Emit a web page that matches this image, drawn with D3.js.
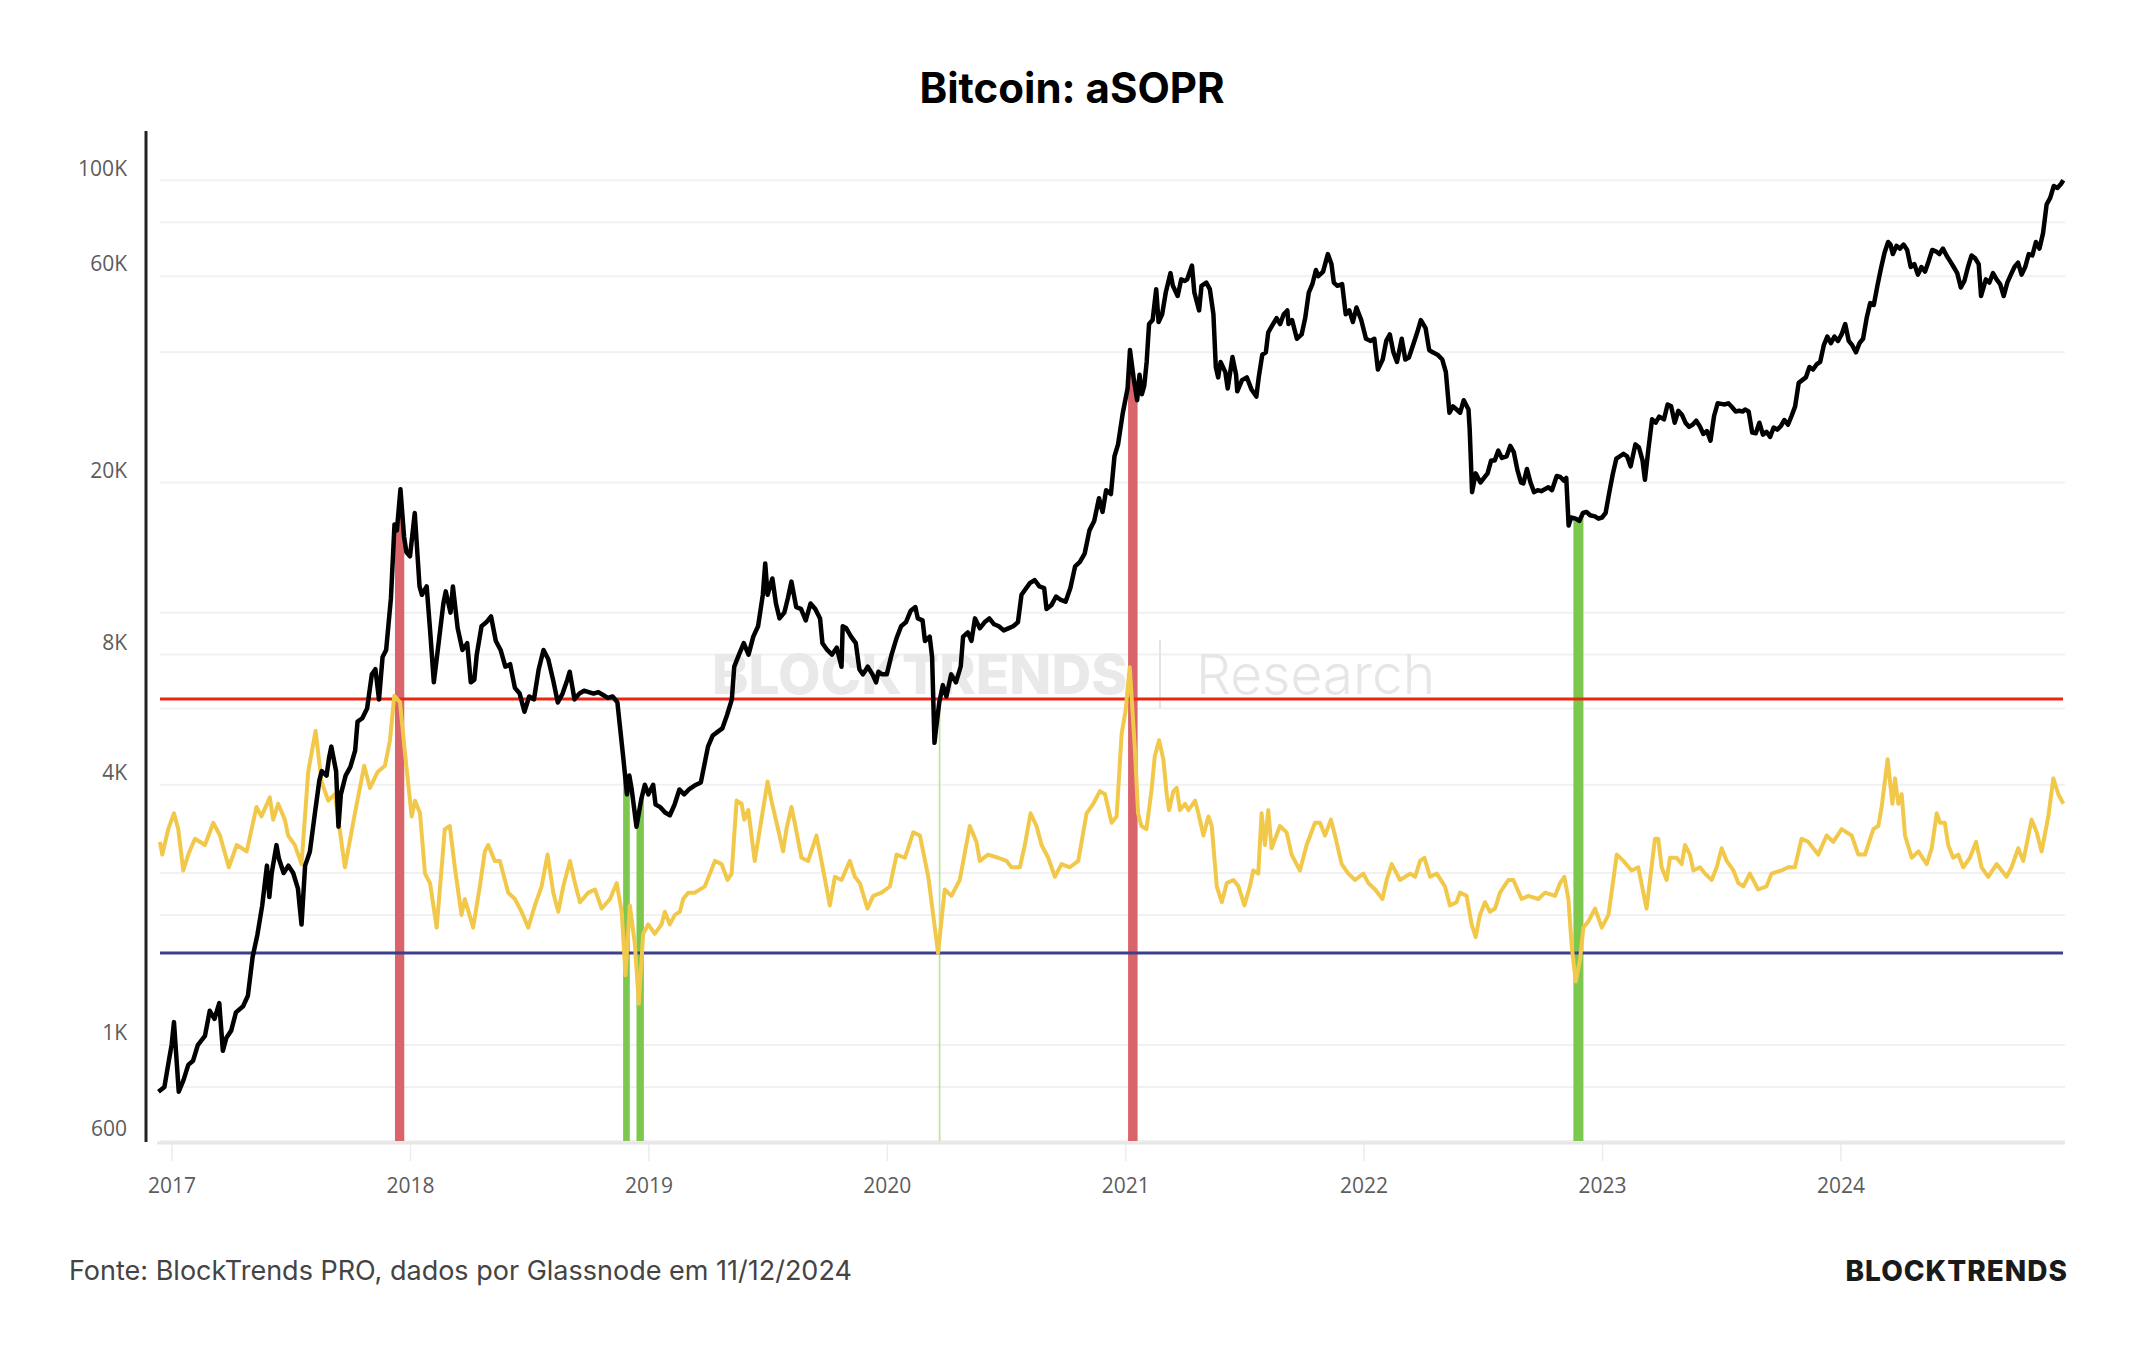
<!DOCTYPE html>
<html>
<head>
<meta charset="utf-8">
<title>Bitcoin: aSOPR</title>
<script src="https://d3js.org/d3.v7.min.js"></script>
<style>
  body { margin: 0; background-color: #fff; }
  .grid line { stroke: #f1f1f1; stroke-width: 2px; }
  .axis path { stroke: none; }
  .axis text { fill: #5c5c5c; font-family: 'Open Sans', sans-serif; font-size: 21px; }
  .xaxis line { stroke: #ececec; stroke-width: 1.5px; }
</style>
</head>
<body>
<div id="chart"></div>
<script>
var width = 2144;
var height = 1350;

// ---- data (x in fractional years) ----
var years = [2017, 2018, 2019, 2020, 2021, 2022, 2023, 2024];
var priceTicks = [600, 1000, 4000, 8000, 20000, 60000, 100000];
var priceTickLabels = ['600', '1K', '4K', '8K', '20K', '60K', '100K'];
var priceGrid = [600, 800, 1000, 2000, 2500, 4000, 6000, 8000, 10000, 20000, 40000, 60000, 80000, 100000];

var soprUpper = 1.05;
var soprLower = 0.97;

// periods where aSOPR broke the bands
var topSignals = [[2017.937, 2017.976], [2021.012, 2021.052]];
var bottomSignals = [[2018.894, 2018.922], [2018.950, 2018.981], [2022.880, 2022.922]];
var weakSignals = [[2020.220, 2020.223]];

var btcPrice = [
  [2016.945, 780], [2016.97, 800], [2016.99, 930], [2017.0, 1000], [2017.01, 1130], [2017.03, 780], [2017.05, 830],
  [2017.07, 900], [2017.09, 920], [2017.11, 1000], [2017.14, 1050], [2017.16, 1200], [2017.18, 1150], [2017.2, 1250],
  [2017.215, 970], [2017.23, 1040], [2017.25, 1080], [2017.27, 1190], [2017.3, 1230], [2017.32, 1300], [2017.34, 1600],
  [2017.36, 1800], [2017.38, 2100], [2017.4, 2600], [2017.41, 2200], [2017.42, 2500], [2017.44, 2900], [2017.45, 2700],
  [2017.47, 2500], [2017.49, 2600], [2017.51, 2500], [2017.53, 2300], [2017.545, 1900], [2017.56, 2600], [2017.58, 2800],
  [2017.6, 3400], [2017.62, 4100], [2017.63, 4300], [2017.65, 4200], [2017.66, 4600], [2017.67, 4900], [2017.69, 4300],
  [2017.7, 3200], [2017.71, 3800], [2017.73, 4200], [2017.75, 4400], [2017.77, 4800], [2017.78, 5600], [2017.8, 5700],
  [2017.82, 6000], [2017.84, 7200], [2017.855, 7400], [2017.87, 6300], [2017.885, 7900], [2017.9, 8200], [2017.92, 10800],
  [2017.935, 16000], [2017.945, 15500], [2017.96, 19300], [2017.975, 15000], [2017.985, 13800], [2018.0, 13500],
  [2018.02, 17000], [2018.04, 11500], [2018.05, 11000], [2018.07, 11500], [2018.085, 9000], [2018.1, 6900], [2018.12, 8500],
  [2018.14, 10500], [2018.15, 11200], [2018.17, 10000], [2018.18, 11500], [2018.2, 9200], [2018.22, 8200], [2018.24, 8500],
  [2018.255, 6900], [2018.27, 7000], [2018.28, 8000], [2018.3, 9300], [2018.32, 9500], [2018.34, 9800], [2018.36, 8600],
  [2018.38, 8200], [2018.4, 7500], [2018.42, 7600], [2018.44, 6700], [2018.46, 6500], [2018.48, 5900], [2018.5, 6400],
  [2018.52, 6300], [2018.54, 7400], [2018.56, 8200], [2018.58, 7800], [2018.6, 7000], [2018.62, 6200], [2018.64, 6500],
  [2018.66, 7000], [2018.67, 7300], [2018.69, 6300], [2018.71, 6500], [2018.73, 6600], [2018.75, 6550], [2018.77, 6500],
  [2018.79, 6550], [2018.81, 6450], [2018.83, 6350], [2018.85, 6400], [2018.87, 6200], [2018.88, 5500], [2018.895, 4600],
  [2018.91, 3800], [2018.92, 4200], [2018.93, 3900], [2018.95, 3200], [2018.97, 3700], [2018.985, 4000], [2019.0, 3800],
  [2019.02, 4000], [2019.03, 3600], [2019.05, 3550], [2019.07, 3450], [2019.09, 3400], [2019.11, 3600], [2019.13, 3900],
  [2019.15, 3800], [2019.17, 3900], [2019.2, 4000], [2019.22, 4050], [2019.25, 4900], [2019.27, 5200], [2019.29, 5300],
  [2019.31, 5400], [2019.33, 5800], [2019.35, 6300], [2019.36, 7500], [2019.38, 8000], [2019.4, 8500], [2019.42, 8000],
  [2019.44, 8800], [2019.46, 9300], [2019.48, 11000], [2019.49, 13000], [2019.5, 11000], [2019.52, 12000], [2019.535, 10500],
  [2019.55, 9700], [2019.57, 10000], [2019.585, 10800], [2019.6, 11800], [2019.62, 10300], [2019.64, 10200], [2019.66, 9600],
  [2019.68, 10500], [2019.7, 10200], [2019.72, 9700], [2019.73, 8500], [2019.75, 8200], [2019.77, 8000], [2019.79, 8300],
  [2019.81, 7500], [2019.815, 9300], [2019.83, 9200], [2019.85, 8800], [2019.87, 8500], [2019.885, 7400], [2019.9, 7200],
  [2019.92, 7500], [2019.94, 7200], [2019.955, 6900], [2019.965, 7300], [2019.98, 7200], [2020.0, 7200], [2020.02, 8000],
  [2020.04, 8700], [2020.06, 9300], [2020.08, 9500], [2020.1, 10100], [2020.12, 10300], [2020.13, 9700], [2020.15, 9600],
  [2020.16, 8600], [2020.18, 8800], [2020.19, 7900], [2020.2, 5000], [2020.205, 5300], [2020.22, 6200], [2020.235, 6800],
  [2020.25, 6400], [2020.27, 7200], [2020.29, 6900], [2020.31, 7500], [2020.32, 8800], [2020.34, 9000], [2020.355, 8600],
  [2020.37, 9700], [2020.39, 9200], [2020.41, 9500], [2020.43, 9700], [2020.45, 9400], [2020.47, 9300], [2020.49, 9100],
  [2020.51, 9200], [2020.53, 9300], [2020.55, 9500], [2020.565, 11000], [2020.58, 11300], [2020.6, 11700], [2020.62, 11900],
  [2020.64, 11500], [2020.66, 11400], [2020.67, 10200], [2020.69, 10400], [2020.71, 10900], [2020.73, 10700], [2020.75, 10600],
  [2020.77, 11400], [2020.79, 12800], [2020.81, 13100], [2020.83, 13700], [2020.85, 15500], [2020.87, 16300], [2020.89, 18400],
  [2020.905, 17100], [2020.92, 19200], [2020.94, 18800], [2020.955, 23000], [2020.97, 24500], [2020.99, 29000], [2021.01, 33000],
  [2021.02, 40500], [2021.035, 35000], [2021.05, 31000], [2021.06, 35500], [2021.07, 32000], [2021.08, 33500], [2021.09, 38000],
  [2021.1, 46500], [2021.115, 47500], [2021.13, 56000], [2021.14, 47000], [2021.155, 49000], [2021.17, 55000], [2021.19, 61000],
  [2021.2, 57000], [2021.22, 54000], [2021.235, 59000], [2021.25, 58500], [2021.26, 59000], [2021.28, 63500], [2021.29, 55000],
  [2021.31, 50000], [2021.32, 57000], [2021.34, 58000], [2021.355, 56000], [2021.37, 49000], [2021.38, 37000], [2021.39, 35000],
  [2021.4, 38000], [2021.42, 36000], [2021.43, 33000], [2021.45, 39000], [2021.465, 35500], [2021.47, 32500], [2021.49, 34500],
  [2021.51, 35000], [2021.53, 32800], [2021.55, 31600], [2021.56, 35000], [2021.575, 39500], [2021.59, 40000], [2021.6, 44500],
  [2021.615, 46000], [2021.635, 48000], [2021.65, 46500], [2021.665, 49000], [2021.68, 50000], [2021.685, 46500], [2021.7, 47500],
  [2021.72, 43000], [2021.74, 44000], [2021.755, 48000], [2021.77, 55000], [2021.785, 57500], [2021.8, 62000], [2021.81, 60000],
  [2021.83, 61500], [2021.85, 67500], [2021.865, 64000], [2021.875, 58000], [2021.89, 57000], [2021.91, 57500], [2021.925, 49000],
  [2021.94, 50000], [2021.955, 47000], [2021.97, 50800], [2021.99, 47500], [2022.01, 43000], [2022.03, 42500], [2022.045, 43000],
  [2022.06, 36500], [2022.08, 38500], [2022.095, 42500], [2022.11, 44000], [2022.125, 40000], [2022.14, 38000], [2022.16, 43000],
  [2022.175, 38500], [2022.19, 38900], [2022.21, 42000], [2022.225, 44500], [2022.24, 47500], [2022.26, 45500], [2022.275, 40500],
  [2022.29, 40000], [2022.31, 39500], [2022.33, 38500], [2022.345, 36000], [2022.36, 29000], [2022.375, 30000], [2022.39, 29500],
  [2022.405, 29000], [2022.42, 31000], [2022.44, 29500], [2022.445, 26500], [2022.455, 19000], [2022.47, 21000], [2022.49, 20000],
  [2022.505, 20500], [2022.52, 21000], [2022.535, 22500], [2022.55, 22500], [2022.565, 23700], [2022.58, 22800], [2022.6, 23000],
  [2022.615, 24300], [2022.63, 23500], [2022.645, 21400], [2022.66, 20000], [2022.67, 19900], [2022.685, 21500], [2022.7, 20000],
  [2022.715, 19000], [2022.73, 19200], [2022.745, 19100], [2022.76, 19300], [2022.775, 19500], [2022.79, 19200], [2022.81, 20700],
  [2022.825, 20600], [2022.84, 20200], [2022.85, 20500], [2022.86, 15900], [2022.87, 16600], [2022.89, 16500], [2022.905, 16300],
  [2022.92, 17000], [2022.935, 17100], [2022.95, 16800], [2022.97, 16700], [2022.985, 16500], [2023.0, 16600], [2023.015, 17000],
  [2023.03, 18900], [2023.045, 20900], [2023.06, 22700], [2023.075, 23000], [2023.09, 23300], [2023.105, 23000], [2023.12, 21800],
  [2023.14, 24500], [2023.155, 24100], [2023.17, 22500], [2023.18, 20300], [2023.195, 24000], [2023.21, 28000], [2023.225, 27500],
  [2023.24, 28400], [2023.26, 28000], [2023.275, 30300], [2023.29, 30000], [2023.305, 27500], [2023.32, 29300], [2023.335, 28700],
  [2023.35, 27500], [2023.365, 26900], [2023.38, 27200], [2023.395, 27800], [2023.41, 27000], [2023.425, 25900], [2023.44, 26300],
  [2023.455, 25000], [2023.47, 28500], [2023.485, 30500], [2023.5, 30400], [2023.515, 30300], [2023.53, 30500], [2023.545, 29900],
  [2023.56, 29200], [2023.575, 29300], [2023.59, 29200], [2023.6, 29500], [2023.615, 29200], [2023.63, 26100], [2023.645, 26000],
  [2023.66, 27500], [2023.675, 25800], [2023.69, 26200], [2023.705, 25500], [2023.72, 26800], [2023.735, 26500], [2023.75, 27000],
  [2023.765, 27900], [2023.78, 27200], [2023.795, 28500], [2023.81, 30000], [2023.825, 34000], [2023.84, 34500], [2023.855, 35000],
  [2023.87, 37000], [2023.885, 36500], [2023.9, 37500], [2023.915, 38000], [2023.93, 41500], [2023.945, 43500], [2023.96, 42000],
  [2023.975, 43500], [2023.99, 42500], [2024.005, 44000], [2024.02, 46500], [2024.035, 42500], [2024.05, 41500], [2024.065, 40000],
  [2024.08, 42000], [2024.095, 43000], [2024.11, 48000], [2024.125, 52000], [2024.14, 51500], [2024.155, 57000], [2024.17, 62500],
  [2024.185, 68000], [2024.2, 72000], [2024.21, 71000], [2024.22, 67500], [2024.235, 70500], [2024.25, 69500], [2024.265, 71000],
  [2024.28, 69000], [2024.295, 63000], [2024.31, 64000], [2024.325, 60500], [2024.34, 63000], [2024.355, 61500], [2024.37, 65000],
  [2024.385, 69000], [2024.4, 68500], [2024.415, 67500], [2024.43, 69500], [2024.445, 67000], [2024.46, 65000], [2024.475, 63000],
  [2024.49, 61000], [2024.505, 56500], [2024.52, 58500], [2024.535, 63000], [2024.55, 67000], [2024.565, 66000], [2024.58, 64000],
  [2024.59, 54000], [2024.61, 59000], [2024.625, 58000], [2024.64, 61000], [2024.655, 59000], [2024.67, 57500], [2024.685, 54000],
  [2024.7, 58000], [2024.715, 60500], [2024.73, 63000], [2024.745, 64500], [2024.76, 60500], [2024.775, 63000], [2024.79, 67500],
  [2024.805, 67000], [2024.82, 72000], [2024.835, 69500], [2024.85, 75500], [2024.865, 88000], [2024.88, 91000], [2024.895, 97000],
  [2024.91, 96000], [2024.925, 98000], [2024.935, 100000]
];

var asopr = [
  [2016.951, 1.005], [2016.961, 1.001], [2016.986, 1.009], [2017.010, 1.014], [2017.028, 1.009], [2017.049, 0.996], [2017.070, 1.001],
  [2017.098, 1.006], [2017.140, 1.004], [2017.175, 1.011], [2017.203, 1.007], [2017.240, 0.997], [2017.273, 1.004], [2017.315, 1.002],
  [2017.356, 1.016], [2017.377, 1.013], [2017.412, 1.019], [2017.426, 1.012], [2017.447, 1.017], [2017.475, 1.012], [2017.489, 1.007],
  [2017.517, 1.004], [2017.545, 0.998], [2017.573, 1.027], [2017.604, 1.040], [2017.629, 1.024], [2017.657, 1.018], [2017.685, 1.020],
  [2017.727, 0.997], [2017.769, 1.014], [2017.808, 1.029], [2017.832, 1.022], [2017.864, 1.027], [2017.895, 1.029], [2017.916, 1.037],
  [2017.934, 1.051], [2017.958, 1.049], [2017.979, 1.033], [2018.007, 1.013], [2018.021, 1.018], [2018.042, 1.014], [2018.063, 0.995],
  [2018.084, 0.992], [2018.112, 0.978], [2018.146, 1.009], [2018.167, 1.010], [2018.188, 0.997], [2018.216, 0.982], [2018.230, 0.987],
  [2018.265, 0.978], [2018.293, 0.991], [2018.314, 1.002], [2018.328, 1.004], [2018.356, 0.999], [2018.377, 0.999], [2018.412, 0.989],
  [2018.440, 0.987], [2018.468, 0.983], [2018.496, 0.978], [2018.524, 0.985], [2018.552, 0.991], [2018.577, 1.001], [2018.601, 0.989],
  [2018.622, 0.983], [2018.643, 0.991], [2018.671, 0.999], [2018.695, 0.991], [2018.713, 0.986], [2018.748, 0.989], [2018.776, 0.990],
  [2018.804, 0.984], [2018.839, 0.987], [2018.867, 0.992], [2018.888, 0.983], [2018.904, 0.963], [2018.922, 0.985], [2018.943, 0.973],
  [2018.960, 0.954], [2018.978, 0.976], [2018.999, 0.979], [2019.027, 0.976], [2019.055, 0.979], [2019.069, 0.983], [2019.090, 0.979],
  [2019.111, 0.982], [2019.132, 0.983], [2019.146, 0.987], [2019.167, 0.989], [2019.195, 0.989], [2019.237, 0.991], [2019.258, 0.995],
  [2019.279, 0.999], [2019.307, 0.998], [2019.332, 0.993], [2019.349, 0.995], [2019.370, 1.018], [2019.391, 1.017], [2019.402, 1.012],
  [2019.419, 1.015], [2019.446, 0.999], [2019.474, 1.012], [2019.500, 1.024], [2019.516, 1.018], [2019.544, 1.009], [2019.565, 1.002],
  [2019.579, 1.009], [2019.600, 1.016], [2019.614, 1.011], [2019.642, 1.000], [2019.670, 0.999], [2019.705, 1.007], [2019.726, 0.999],
  [2019.761, 0.985], [2019.782, 0.994], [2019.810, 0.993], [2019.845, 0.999], [2019.866, 0.994], [2019.887, 0.992], [2019.919, 0.984],
  [2019.943, 0.988], [2019.978, 0.989], [2020.013, 0.991], [2020.041, 1.001], [2020.076, 1.000], [2020.111, 1.008], [2020.139, 1.007],
  [2020.174, 0.994], [2020.215, 0.970], [2020.243, 0.990], [2020.271, 0.988], [2020.306, 0.993], [2020.348, 1.010], [2020.376, 1.005],
  [2020.390, 0.999], [2020.425, 1.001], [2020.467, 1.000], [2020.502, 0.999], [2020.523, 0.997], [2020.558, 0.997], [2020.579, 1.004],
  [2020.603, 1.014], [2020.628, 1.010], [2020.649, 1.004], [2020.677, 1.000], [2020.705, 0.994], [2020.733, 0.998], [2020.768, 0.997],
  [2020.803, 0.999], [2020.838, 1.014], [2020.866, 1.017], [2020.894, 1.021], [2020.915, 1.020], [2020.943, 1.011], [2020.964, 1.013],
  [2020.985, 1.039], [2021.001, 1.046], [2021.019, 1.060], [2021.040, 1.035], [2021.054, 1.014], [2021.068, 1.010], [2021.089, 1.009],
  [2021.110, 1.021], [2021.124, 1.032], [2021.142, 1.037], [2021.160, 1.031], [2021.174, 1.020], [2021.184, 1.015], [2021.202, 1.021],
  [2021.216, 1.022], [2021.230, 1.015], [2021.251, 1.017], [2021.265, 1.015], [2021.293, 1.018], [2021.307, 1.014], [2021.328, 1.007],
  [2021.349, 1.013], [2021.363, 1.010], [2021.384, 0.991], [2021.405, 0.986], [2021.426, 0.992], [2021.454, 0.993], [2021.475, 0.991],
  [2021.500, 0.985], [2021.523, 0.991], [2021.537, 0.996], [2021.558, 0.995], [2021.572, 1.014], [2021.586, 1.004], [2021.600, 1.015],
  [2021.614, 1.003], [2021.649, 1.010], [2021.677, 1.008], [2021.698, 1.001], [2021.733, 0.996], [2021.761, 1.004], [2021.796, 1.011],
  [2021.817, 1.011], [2021.838, 1.007], [2021.863, 1.012], [2021.880, 1.007], [2021.908, 0.998], [2021.936, 0.995], [2021.964, 0.993],
  [2021.999, 0.995], [2022.020, 0.992], [2022.048, 0.990], [2022.079, 0.987], [2022.097, 0.993], [2022.118, 0.998], [2022.153, 0.993],
  [2022.195, 0.995], [2022.216, 0.994], [2022.237, 0.999], [2022.255, 1.000], [2022.279, 0.994], [2022.307, 0.995], [2022.341, 0.991],
  [2022.362, 0.985], [2022.390, 0.986], [2022.404, 0.989], [2022.432, 0.988], [2022.453, 0.979], [2022.470, 0.975], [2022.488, 0.982],
  [2022.509, 0.986], [2022.530, 0.983], [2022.551, 0.984], [2022.572, 0.989], [2022.607, 0.993], [2022.628, 0.993], [2022.663, 0.987],
  [2022.691, 0.988], [2022.733, 0.987], [2022.761, 0.989], [2022.803, 0.988], [2022.824, 0.992], [2022.842, 0.994], [2022.859, 0.987],
  [2022.873, 0.972], [2022.890, 0.961], [2022.908, 0.968], [2022.922, 0.978], [2022.943, 0.980], [2022.971, 0.984], [2022.999, 0.978],
  [2023.027, 0.982], [2023.062, 1.001], [2023.090, 0.999], [2023.124, 0.996], [2023.152, 0.997], [2023.187, 0.984], [2023.222, 1.006],
  [2023.236, 1.006], [2023.250, 0.997], [2023.271, 0.993], [2023.285, 1.000], [2023.313, 1.000], [2023.334, 0.998], [2023.348, 1.004],
  [2023.369, 1.001], [2023.383, 0.996], [2023.411, 0.997], [2023.432, 0.995], [2023.460, 0.993], [2023.481, 0.997], [2023.502, 1.003],
  [2023.523, 0.999], [2023.551, 0.996], [2023.572, 0.992], [2023.593, 0.991], [2023.620, 0.995], [2023.655, 0.990], [2023.690, 0.991],
  [2023.711, 0.995], [2023.753, 0.996], [2023.781, 0.997], [2023.809, 0.997], [2023.837, 1.006], [2023.865, 1.005], [2023.907, 1.001],
  [2023.942, 1.007], [2023.970, 1.005], [2024.005, 1.009], [2024.047, 1.007], [2024.075, 1.001], [2024.103, 1.001], [2024.138, 1.009],
  [2024.159, 1.010], [2024.173, 1.016], [2024.198, 1.031], [2024.218, 1.017], [2024.229, 1.025], [2024.243, 1.017], [2024.257, 1.020],
  [2024.271, 1.007], [2024.299, 1.000], [2024.327, 1.002], [2024.362, 0.998], [2024.383, 1.003], [2024.404, 1.014], [2024.418, 1.011],
  [2024.438, 1.011], [2024.452, 1.004], [2024.473, 1.000], [2024.494, 1.001], [2024.515, 0.997], [2024.543, 1.000], [2024.569, 1.005],
  [2024.592, 0.997], [2024.620, 0.994], [2024.655, 0.998], [2024.697, 0.994], [2024.718, 0.997], [2024.746, 1.003], [2024.767, 0.999],
  [2024.802, 1.012], [2024.823, 1.008], [2024.844, 1.002], [2024.872, 1.013], [2024.893, 1.025], [2024.914, 1.020], [2024.935, 1.017]
];

// ---- svg ----
var svg = d3.select('#chart')
  .append('svg')
  .attr('width', width)
  .attr('height', height)
  .style('background-color', '#fff');

var x = d3.scaleLinear().domain([2016.943, 2024.942]).range([158, 2065]);
var y = d3.scaleLog().domain([600, 130000]).range([1141, 131]);
// aSOPR sits on its own hidden axis
var ySopr = d3.scaleLinear().domain([soprLower, soprUpper]).range([953, 699]);

// title
svg.append('text')
  .attr('x', 1072)
  .attr('y', 103)
  .attr('text-anchor', 'middle')
  .text('Bitcoin: aSOPR')
  .style('font-family', 'Inter, sans-serif')
  .style('font-weight', '700')
  .style('font-size', '42px')
  .style('fill', '#000');

// horizontal grid
svg.append('g')
  .attr('class', 'grid')
  .selectAll('line')
  .data(priceGrid)
  .enter().append('line')
  .attr('x1', 160).attr('x2', 2065)
  .attr('y1', function (d) { return y(d); })
  .attr('y2', function (d) { return y(d); });

// watermark
var wm = svg.append('g');
wm.append('text')
  .attr('x', 712).attr('y', 694)
  .text('BLOCKTRENDS')
  .style('font-family', 'Inter, sans-serif')
  .style('font-weight', '800')
  .style('font-size', '55px')
  .style('fill', '#e9e9e9');
wm.append('line')
  .attr('x1', 1160).attr('x2', 1160)
  .attr('y1', 640).attr('y2', 708)
  .style('stroke', '#e4e4e4')
  .style('stroke-width', 2);
wm.append('text')
  .attr('x', 1196).attr('y', 694)
  .text('Research')
  .style('font-family', 'Inter, sans-serif')
  .style('font-weight', '300')
  .style('font-size', '55px')
  .style('fill', '#e6e6e6');

// x axis
svg.append('line')
  .attr('x1', 157).attr('x2', 2065)
  .attr('y1', 1143).attr('y2', 1143)
  .style('stroke', '#e6e6e6')
  .style('stroke-width', 3);

var xAxis = svg.append('g')
  .attr('class', 'axis xaxis')
  .attr('transform', 'translate(0,1143)')
  .call(d3.axisBottom(x).tickValues(years).tickFormat(d3.format('d')).tickSize(18).tickPadding(17));

// y axis
var yAxis = svg.append('g')
  .attr('class', 'axis')
  .attr('transform', 'translate(146,0)')
  .call(d3.axisLeft(y).tickValues(priceTicks)
    .tickFormat(function (d, i) { return priceTickLabels[i]; })
    .tickSize(0).tickPadding(19));
yAxis.selectAll('text').attr('y', -12);

svg.append('line')
  .attr('x1', 146).attr('x2', 146)
  .attr('y1', 131).attr('y2', 1142)
  .style('stroke', '#222')
  .style('stroke-width', 3);

// price interpolated in log space, used for the signal areas
function priceAt(t) {
  var i = d3.bisector(function (d) { return d[0]; }).right(btcPrice, t);
  var a = btcPrice[Math.max(0, i - 1)], b = btcPrice[Math.min(btcPrice.length - 1, i)];
  if (a[0] === b[0]) return a[1];
  var k = (t - a[0]) / (b[0] - a[0]);
  return Math.exp(Math.log(a[1]) + k * (Math.log(b[1]) - Math.log(a[1])));
}

var signalArea = d3.area()
  .x(function (d) { return x(d); })
  .y0(y(600))
  .y1(function (d) { return y(priceAt(d)); });

function drawSignals(list, color, extra) {
  list.forEach(function (s) {
    var pts = [s[0]];
    btcPrice.forEach(function (p) { if (p[0] > s[0] && p[0] < s[1]) pts.push(p[0]); });
    pts.push(s[1]);
    svg.append('path')
      .datum(pts)
      .attr('d', signalArea)
      .style('fill', color)
      .style('stroke', color)
      .style('stroke-width', extra);
  });
}
drawSignals(topSignals, '#d9646a', 0);
drawSignals(bottomSignals, '#7cc84e', 0);
drawSignals(weakSignals, '#b9e39c', 1);

// aSOPR bands
svg.append('line')
  .attr('x1', 160).attr('x2', 2063)
  .attr('y1', ySopr(soprUpper)).attr('y2', ySopr(soprUpper))
  .style('stroke', '#ec2410')
  .style('stroke-width', 3);
svg.append('line')
  .attr('x1', 160).attr('x2', 2063)
  .attr('y1', ySopr(soprLower)).attr('y2', ySopr(soprLower))
  .style('stroke', '#3c3f8a')
  .style('stroke-width', 3);

// aSOPR line
svg.append('path')
  .datum(asopr)
  .attr('d', d3.line()
    .x(function (d) { return x(d[0]); })
    .y(function (d) { return ySopr(d[1]); }))
  .style('fill', 'none')
  .style('stroke', '#f2c84b')
  .style('stroke-width', 4)
  .style('stroke-linejoin', 'round');

// price line
svg.append('path')
  .datum(btcPrice)
  .attr('d', d3.line()
    .x(function (d) { return x(d[0]); })
    .y(function (d) { return y(d[1]); }))
  .style('fill', 'none')
  .style('stroke', '#000')
  .style('stroke-width', 4.5)
  .style('stroke-linejoin', 'round');

// footer
svg.append('text')
  .attr('x', 69)
  .attr('y', 1280)
  .text('Fonte: BlockTrends PRO, dados por Glassnode em 11/12/2024')
  .style('font-family', 'Inter, sans-serif')
  .style('font-size', '27px')
  .style('fill', '#444');

svg.append('text')
  .attr('x', 2068)
  .attr('y', 1281)
  .attr('text-anchor', 'end')
  .text('BLOCKTRENDS')
  .style('font-family', 'Inter, sans-serif')
  .style('font-weight', '800')
  .style('font-size', '28px')
  .style('letter-spacing', '1px')
  .style('fill', '#1a1a1a');
</script>
</body>
</html>
